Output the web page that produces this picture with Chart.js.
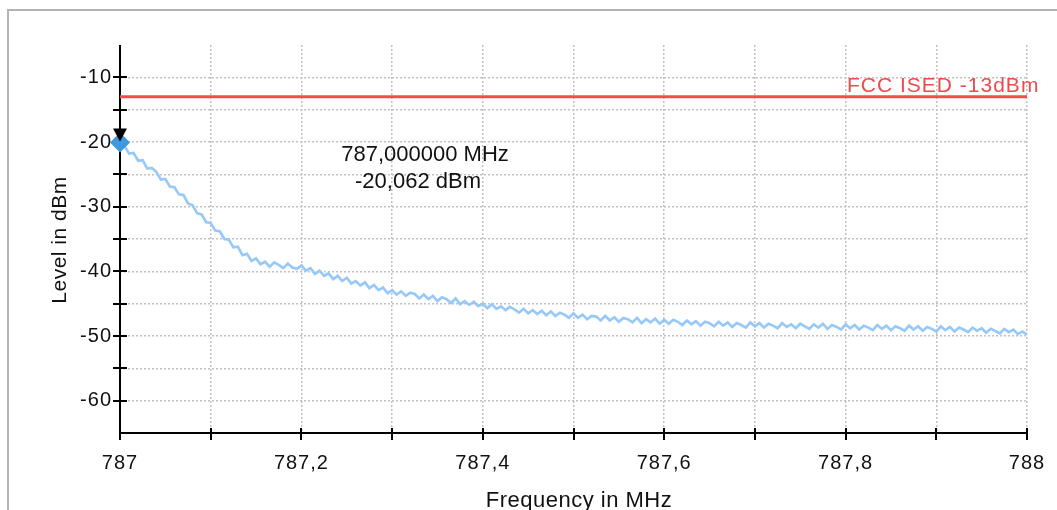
<!DOCTYPE html>
<html><head><meta charset="utf-8">
<script src="https://cdn.jsdelivr.net/npm/chart.js@4/dist/chart.umd.min.js"></script>
<style>html,body{margin:0;padding:0;background:#fff;overflow:hidden}#wrap{position:relative;width:1057px;height:510px}canvas{display:block}</style>
</head><body><div id="wrap"><canvas id="c" width="1057" height="510"></canvas></div>
<script>
const freqStart = 787.0;
const freqStop = 788.0;
const levels = [
-20.06,-20.6,-21.8,-21.7,-22.9,-22.8,-24.1,-24.0,-24.6,-25.8,
-25.7,-26.9,-27.0,-28.1,-28.2,-29.5,-29.8,-31.0,-31.2,-32.4,
-32.5,-33.7,-33.8,-35.0,-35.1,-36.3,-36.2,-37.5,-37.3,-38.4,
-38.0,-38.9,-38.5,-39.3,-38.6,-39.0,-39.5,-38.8,-39.4,-39.6,
-39.1,-39.9,-39.5,-40.4,-39.9,-40.7,-40.3,-41.2,-40.7,-41.5,
-41.0,-41.9,-41.5,-42.2,-41.7,-42.6,-42.1,-42.9,-42.5,-43.4,
-42.9,-43.6,-43.1,-43.8,-43.3,-43.5,-44.2,-43.6,-44.3,-43.8,
-44.6,-44.0,-44.3,-44.9,-44.2,-45.1,-44.6,-45.2,-44.7,-45.4,
-45.0,-45.7,-45.1,-45.8,-45.4,-46.0,-45.5,-45.9,-46.4,-45.8,
-46.5,-46.0,-46.6,-46.1,-46.8,-46.2,-46.9,-46.4,-46.7,-47.2,
-46.5,-47.2,-46.7,-47.4,-46.9,-47.0,-47.6,-46.9,-47.6,-47.1,
-47.8,-47.2,-47.4,-47.9,-47.2,-48.0,-47.4,-47.9,-47.3,-48.1,
-47.5,-48.1,-47.5,-47.8,-48.3,-47.6,-48.2,-47.7,-48.4,-47.8,
-48.0,-48.5,-47.8,-48.4,-47.9,-48.6,-48.0,-48.3,-48.7,-47.9,
-48.5,-48.0,-48.7,-48.1,-48.4,-48.8,-48.0,-48.6,-48.2,-48.8,
-48.1,-48.5,-48.9,-48.2,-48.7,-48.1,-48.9,-48.3,-48.6,-49.0,
-48.2,-48.8,-48.3,-49.0,-48.4,-48.7,-49.1,-48.3,-48.9,-48.4,
-49.1,-48.5,-48.8,-49.2,-48.4,-49.0,-48.5,-49.2,-48.6,-48.9,
-49.3,-48.5,-49.1,-48.6,-49.3,-48.7,-49.0,-49.4,-48.7,-49.2,
-48.8,-49.5,-48.9,-49.2,-49.6,-48.9,-49.4,-49.0,-49.7,-49.3,
-49.8];
const limitLevel = -13;
const limitLabel = 'FCC ISED -13dBm';
const markerFreq = 787.0;
const markerLevel = -20.062;
const markerText = ['787,000000 MHz', '-20,062 dBm'];
const yTickValues = [-60, -50, -40, -30, -20, -10];
const xTickLabels = ['787', '787,2', '787,4', '787,6', '787,8', '788'];
const xTitle = 'Frequency in MHz';
const yTitle = 'Level in dBm';

const step = (freqStop - freqStart) / (levels.length - 1);
const traceData = levels.map((v, i) => ({ x: freqStart + i * step, y: v }));
const FONT = '"Liberation Sans", Arial, sans-serif';

const deco = {
  id: 'deco',
  beforeLayout(chart) { chart.ctx.letterSpacing = '1px'; },
  beforeDraw(chart) {
    const c = chart.ctx;
    c.letterSpacing = '1px';
    c.save();
    c.fillStyle = '#b4b4b4';
    c.fillRect(7, 9, 1057, 2);
    c.fillRect(7, 9, 2, 510);
    c.restore();
  },
  beforeDatasetsDraw(chart) {
    const c = chart.ctx, a = chart.chartArea, xs = chart.scales.x, ys = chart.scales.y;
    c.save();
    c.strokeStyle = '#000'; c.lineWidth = 2;
    c.beginPath();
    c.moveTo(a.left, a.top); c.lineTo(a.left, a.bottom + 7);
    c.moveTo(a.left, a.bottom); c.lineTo(a.right, a.bottom);
    ys.ticks.forEach(t => {
      if (t.value <= ys.min || t.value >= ys.max) return;
      const y = Math.round(ys.getPixelForValue(t.value));
      c.moveTo(a.left - 7, y); c.lineTo(a.left + 7, y);
    });
    xs.ticks.forEach(t => {
      const x = Math.round(xs.getPixelForValue(t.value));
      c.moveTo(x, a.bottom - 5); c.lineTo(x, a.bottom + 7);
    });
    c.stroke();
    c.restore();
  },
  afterDatasetsDraw(chart) {
    const c = chart.ctx, a = chart.chartArea, xs = chart.scales.x, ys = chart.scales.y;
    c.save();
    c.letterSpacing = '0px';
    const mx = xs.getPixelForValue(markerFreq), my = ys.getPixelForValue(markerLevel);
    c.fillStyle = '#000';
    c.beginPath();
    c.moveTo(mx - 7, my - 14); c.lineTo(mx + 7, my - 14); c.lineTo(mx, my - 1); c.closePath();
    c.fill();
    c.font = '22px ' + FONT;
    c.textAlign = 'center'; c.textBaseline = 'middle';
    c.fillStyle = '#111';
    c.fillText(markerText[0], 425, 155);
    c.fillText(markerText[1], 418, 182);
    c.font = '21px ' + FONT;
    c.letterSpacing = '1px';
    c.fillStyle = '#f04a4a';
    c.textAlign = 'left';
    c.fillText(limitLabel, 847, ys.getPixelForValue(limitLevel) - 11);
    c.letterSpacing = '0.5px';
    c.fillStyle = '#111';
    c.font = '22px ' + FONT;
    c.textAlign = 'center';
    c.fillText(xTitle, 579, 501);
    c.font = '21px ' + FONT;
    c.translate(60, 240);
    c.rotate(-Math.PI / 2);
    c.fillText(yTitle, 0, 0);
    c.restore();
  }
};

new Chart(document.getElementById('c'), {
  type: 'scatter',
  data: {
    datasets: [
      { data: [{ x: markerFreq, y: markerLevel }], pointStyle: 'rectRot', pointRadius: 10, backgroundColor: '#3d98de', borderColor: '#3d98de', borderWidth: 0, showLine: false, clip: false, order: 0 },
      { data: [{ x: freqStart, y: limitLevel }, { x: freqStop, y: limitLevel }], showLine: true, borderColor: '#f24c4c', borderWidth: 3, pointRadius: 0, order: 1 },
      { data: traceData, showLine: true, borderColor: '#96c8fa', borderWidth: 2.6, pointRadius: 0, tension: 0, order: 2 }
    ]
  },
  options: {
    responsive: false, animation: false, devicePixelRatio: 1,
    layout: { padding: { left: 0, top: 45, right: 30, bottom: 0 } },
    plugins: { legend: { display: false }, tooltip: { enabled: false } },
    scales: {
      x: {
        type: 'linear', min: freqStart, max: freqStop,
        afterFit: s => { s.height = 77; s.paddingLeft = 0; s.paddingRight = 0; },
        border: { display: false, dash: [2, 2] },
        grid: { drawTicks: false, color: ctx => (ctx.tick && ctx.tick.value === freqStart) ? 'rgba(0,0,0,0)' : '#c2c2c2', lineWidth: 1.5 },
        ticks: {
          stepSize: 0.1, autoSkip: false, maxRotation: 0, padding: 18, color: '#111',
          font: { family: FONT, size: 20 },
          callback: v => { const k = Math.round((v - freqStart) * 10); return k % 2 === 0 ? xTickLabels[k / 2] : ''; }
        }
      },
      y: {
        min: -65, max: -5,
        afterFit: s => { s.width = 120; s.paddingTop = 0; s.paddingBottom = 0; },
        border: { display: false, dash: [2, 2] },
        grid: { drawTicks: false, color: ctx => (ctx.tick && (ctx.tick.value <= -65 || ctx.tick.value >= -5)) ? 'rgba(0,0,0,0)' : '#c2c2c2', lineWidth: 1.5 },
        ticks: {
          stepSize: 5, autoSkip: false, padding: 8, color: '#111',
          font: { family: FONT, size: 20 },
          callback: v => yTickValues.includes(v) ? String(v) : ''
        }
      }
    }
  },
  plugins: [deco]
});
</script></body></html>
